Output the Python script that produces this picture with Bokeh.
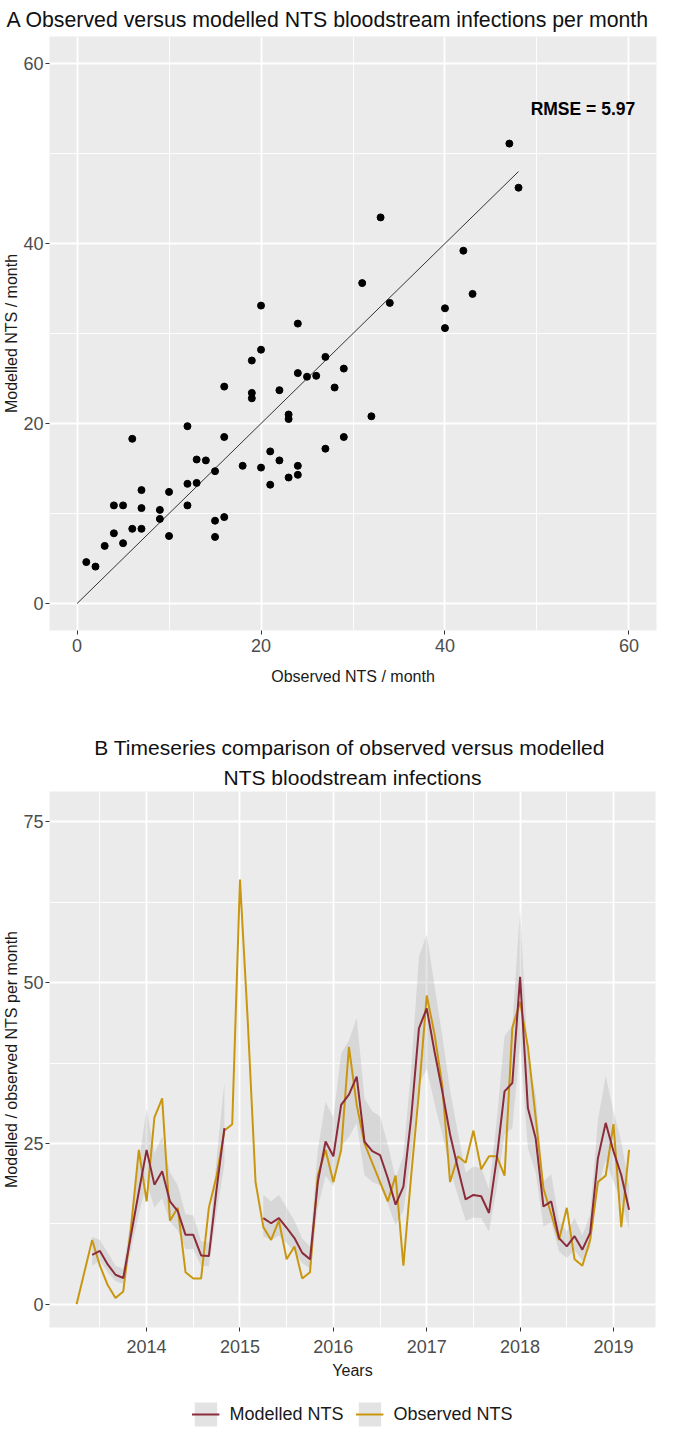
import pandas as pd
from bokeh.plotting import figure
from bokeh.models import FixedTicker, Title, Legend, LegendItem, Label, Range1d
from bokeh.layouts import column
from bokeh.embed import file_html
from bokeh.resources import INLINE

FONT = "Liberation Sans"

# ---------------- Panel A data ----------------
scatter_observed = [1, 2, 3, 4, 5, 4, 5, 6, 6, 7, 7, 7, 9, 9, 10, 10, 12, 12, 12, 13,
                    13, 14, 15, 15, 15, 16, 16, 16, 18, 19, 19, 19, 20, 20, 20, 21, 21, 22, 22, 23,
                    23, 23, 24, 24, 24, 24, 25, 26, 27, 27, 28, 29, 29, 31, 32, 33, 34, 40, 40, 42,
                    43, 47, 48]
scatter_modelled = [4.6, 4.1, 6.4, 7.8, 6.7, 10.9, 10.9, 18.3, 8.3, 8.3, 10.6, 12.6, 10.4, 9.4, 12.4, 7.5, 19.7, 10.9, 13.3, 16.0,
                    13.4, 15.9, 14.7, 9.2, 7.4, 9.6, 18.5, 24.1, 15.3, 27.0, 23.4, 22.8, 33.1, 28.2, 15.1, 16.9, 13.2, 23.7, 15.9, 21.0,
                    20.5, 14.0, 31.1, 25.6, 15.3, 14.3, 25.2, 25.3, 27.4, 17.2, 24.0, 26.1, 18.5, 35.6, 20.8, 42.9, 33.4, 32.8, 30.6, 39.2,
                    34.4, 51.1, 46.2]
fit_x = [0, 48]
fit_y = [0, 48]
rmse_text = "RMSE = 5.97"
rmse_x, rmse_y = 55, 55
a_ticks = [0, 20, 40, 60]
a_minor = [10, 30, 50]

# ---------------- Panel B data (monthly, Apr 2013 - Mar 2019) ----------------
observed_nts = [
    0, 5, 10, 6, 3, 1, 2, 12, 24,
    16, 29, 32, 13, 15, 5, 4, 4, 15, 20, 27, 28,
    66, 44, 19, 12, 10, 13, 7, 9, 4, 5, 20, 24,
    19, 24, 40, 31, 25, 22, 19, 16, 20, 6, 20, 33,
    48, 42, 34, 19, 23, 22, 27, 21, 23, 23, 20, 43,
    47, 40, 29, 18, 14, 10, 15, 7, 6, 10, 19, 20,
    28, 12, 24]
modelled_nts = [
    None, None, 7.7, 8.3, 6.2, 4.6, 4.1, 10.8, 17.5,
    24.0, 18.6, 20.7, 16.0, 14.5, 10.8, 10.8, 7.6, 7.5, 18.0, 27.4, None,
    None, None, None, 13.4, 12.6, 13.4, 11.9, 10.3, 8.0, 7.0, 19.0, 25.3,
    23.0, 31.0, 32.6, 35.4, 25.3, 23.8, 23.2, 19.6, 15.5, 18.3, 29.0, 42.9,
    46.0, 39.3, 33.1, 26.4, 21.2, 16.3, 17.0, 16.8, 14.2, 22.7, 33.1, 34.4,
    50.9, 30.5, 25.8, 15.2, 16.0, 10.3, 9.0, 10.6, 8.5, 11.1, 22.7, 28.2,
    23.8, 20.1, 14.7]
modelled_lower = [
    None, None, 6.0, 6.8, 5.0, 3.6, 3.2, 8.5, 14.0,
    19.0, 15.0, 16.5, 12.8, 11.5, 8.6, 8.6, 6.0, 5.9, 14.3, 21.8, None,
    None, None, None, 10.6, 10.0, 10.7, 9.5, 8.2, 6.4, 5.6, 15.0, 20.0,
    18.3, 24.6, 26.0, 28.2, 20.1, 19.0, 18.5, 15.6, 12.3, 14.6, 23.1, 34.2,
    36.6, 31.3, 26.4, 21.0, 16.9, 13.0, 13.5, 13.4, 11.3, 18.1, 26.4, 27.4,
    40.5, 24.3, 20.5, 12.1, 12.7, 8.2, 7.2, 8.4, 6.8, 8.8, 18.1, 22.4,
    19.0, 16.0, 11.7]
modelled_upper = [
    None, None, 10.5, 10.0, 8.0, 6.0, 5.5, 13.5, 22.0,
    30.5, 23.5, 26.0, 20.5, 18.5, 14.0, 13.8, 9.8, 9.6, 22.8, 34.5, None,
    None, None, None, 17.0, 16.0, 17.0, 15.0, 13.0, 10.2, 9.0, 24.0, 31.5,
    29.0, 39.0, 41.0, 44.5, 32.0, 30.0, 29.2, 24.8, 19.6, 23.1, 36.6, 54.0,
    57.5, 49.5, 41.7, 33.2, 26.7, 20.5, 21.4, 21.2, 17.9, 28.6, 41.7, 43.3,
    61.5, 38.4, 32.5, 19.1, 20.2, 13.0, 11.3, 13.4, 10.7, 14.0, 28.6, 35.5,
    30.0, 25.3, 18.5]
b_year_ticks = [2014, 2015, 2016, 2017, 2018, 2019]
b_year_minor = [2013.5, 2014.5, 2015.5, 2016.5, 2017.5, 2018.5]
b_value_ticks = [0, 25, 50, 75]
b_value_minor = [12.5, 37.5, 62.5]
legend_labels = ["Modelled NTS", "Observed NTS"]

months = pd.date_range("2013-04-01", "2019-03-01", freq="MS")
t = [d.year + (d.month - 1) / 12 for d in months]

OBS_COL = "#C9970F"
MOD_COL = "#8C2B3A"


def style(p, xt, xm, yt, ym):
    p.background_fill_color = "#EBEBEB"
    p.border_fill_color = "white"
    p.outline_line_color = None
    p.xaxis.ticker = FixedTicker(ticks=xt, minor_ticks=xm)
    p.yaxis.ticker = FixedTicker(ticks=yt, minor_ticks=ym)
    for g in (p.xgrid, p.ygrid):
        g.grid_line_color = "white"
        g.grid_line_width = 1.8
        g.minor_grid_line_color = "white"
        g.minor_grid_line_width = 0.9
    for ax in p.axis:
        ax.axis_line_color = None
        ax.major_tick_line_color = "#333333"
        ax.major_tick_out = 4
        ax.major_tick_in = 0
        ax.minor_tick_line_color = None
        ax.major_label_text_color = "#4D4D4D"
        ax.major_label_text_font_size = "18px"
        ax.major_label_text_font = FONT
        ax.axis_label_text_font = FONT
        ax.axis_label_text_font_size = "16px"
        ax.axis_label_text_font_style = "normal"
        ax.axis_label_text_color = "#1A1A1A"
    p.yaxis.major_label_standoff = 2
    p.yaxis.axis_label_standoff = 0


# ---------------- Panel A ----------------
pA = figure(frame_width=607, frame_height=594,
            x_range=Range1d(-3, 63), y_range=Range1d(-3, 63),
            min_border_left=48, min_border_right=14, min_border_top=35, min_border_bottom=79,
            output_backend="svg", toolbar_location=None)
style(pA, a_ticks, a_minor, a_ticks, a_minor)
pA.xaxis.major_label_standoff = 4
pA.xaxis.axis_label_standoff = 13
pA.xaxis.axis_label = "Observed NTS / month"
pA.yaxis.axis_label = "Modelled NTS / month"
pA.title.text = "A  Observed versus modelled NTS bloodstream infections per month"
pA.title.text_font = FONT
pA.title.text_font_size = "21.3px"
pA.title.text_font_style = "normal"
pA.title.text_color = "#111111"
pA.title.align = "left"
pA.title.offset = -43
pA.title.standoff = 10

pA.line(fit_x, fit_y, line_color="#333333", line_width=1)
pA.scatter(scatter_observed, scatter_modelled, size=7, color="black")
pA.add_layout(Label(x=rmse_x, y=rmse_y, text=rmse_text, text_align="center",
                    text_baseline="middle", text_font=FONT, text_font_size="17.5px",
                    text_font_style="bold", text_color="black"))

# ---------------- Panel B ----------------
pB = figure(frame_width=606, frame_height=536,
            x_range=Range1d(2012.96, 2019.45), y_range=Range1d(-3.6, 79.7),
            min_border_left=48, min_border_right=15, min_border_top=82, min_border_bottom=72,
            output_backend="svg", toolbar_location=None)
style(pB, b_year_ticks, b_year_minor, b_value_ticks, b_value_minor)
pB.xaxis.major_label_standoff = 8
pB.xaxis.axis_label_standoff = 6
pB.xaxis.axis_label = "Years"
pB.yaxis.axis_label = "Modelled / observed NTS per month"
pB.title.text = "B  Timeseries comparison of observed versus modelled"
pB.title.text_font = FONT
pB.title.text_font_size = "21px"
pB.title.text_font_style = "normal"
pB.title.text_color = "#111111"
pB.title.align = "center"
pB.title.offset = -20
pB.title.standoff = 3
pB.add_layout(Title(text="NTS bloodstream infections",
                    text_font=FONT, text_font_size="21px", text_font_style="normal",
                    text_color="#111111", align="center", offset=-20, standoff=6), "above")

# split modelled into contiguous segments
segments = []
cur = []
for i, v in enumerate(modelled_nts):
    if v is None:
        if cur:
            segments.append(cur)
            cur = []
    else:
        cur.append(i)
if cur:
    segments.append(cur)

for seg in segments:
    pB.varea(x=[t[i] for i in seg], y1=[modelled_lower[i] for i in seg],
             y2=[modelled_upper[i] for i in seg], fill_color="#9A9A9A", fill_alpha=0.25)

pB.line(t, observed_nts, line_color=OBS_COL, line_width=2)
for seg in segments:
    pB.line([t[i] for i in seg], [modelled_nts[i] for i in seg],
            line_color=MOD_COL, line_width=2)

# ---------------- Legend strip ----------------
pC = figure(frame_width=606, frame_height=30, x_axis_type=None, y_axis_type=None,
            x_range=Range1d(0, 1), y_range=Range1d(0, 1),
            min_border_left=48, min_border_right=15, min_border_top=0, min_border_bottom=0,
            output_backend="svg", toolbar_location=None)
pC.outline_line_color = None
pC.background_fill_color = "white"
pC.xgrid.visible = False
pC.ygrid.visible = False

# legend-key proxies: drawn outside the visible range, only their legend keys show
proxy = [5, 6]
key_bg1 = pC.quad(left=proxy[:1], right=proxy[1:], top=proxy[1:], bottom=proxy[:1],
                  fill_color="#E3E3E3", line_color=None)
key_bg2 = pC.quad(left=proxy[:1], right=proxy[1:], top=proxy[1:], bottom=proxy[:1],
                  fill_color="#E3E3E3", line_color=None)
key_mod = pC.line(proxy, proxy, line_color=MOD_COL, line_width=2)
key_obs = pC.line(proxy, proxy, line_color=OBS_COL, line_width=2)

legend = Legend(items=[LegendItem(label=legend_labels[0], renderers=[key_bg1, key_mod]),
                       LegendItem(label=legend_labels[1], renderers=[key_bg2, key_obs])],
                orientation="horizontal", location="center",
                glyph_width=28, glyph_height=30, label_standoff=10, spacing=12,
                padding=0, margin=0, background_fill_alpha=0, border_line_alpha=0,
                label_text_font=FONT, label_text_font_size="18px", label_text_color="#1A1A1A")
pC.add_layout(legend, "center")

layout = column(pA, pB, pC, spacing=0)
open("out.html", "w").write(file_html(layout, INLINE))
